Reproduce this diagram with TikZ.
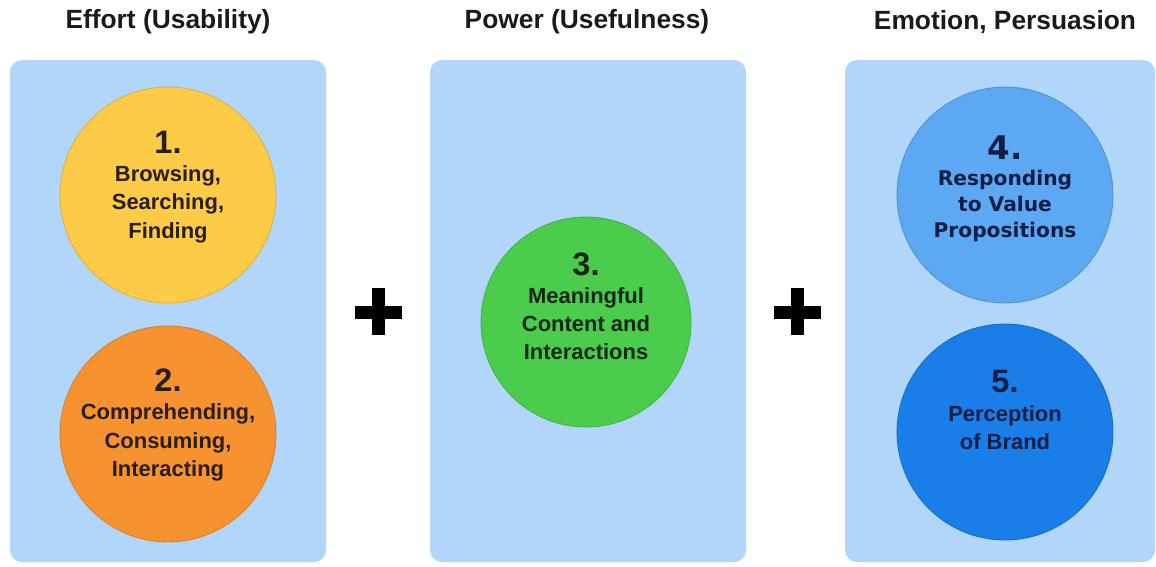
\documentclass[tikz,border=0pt]{standalone}
\usepackage{fontspec}
\setmainfont{Liberation Sans}
\newfontfamily\verdanafont{DejaVu Sans}

\definecolor{panelblue}{RGB}{178,214,250}
\definecolor{discyellow}{RGB}{252,203,72}
\definecolor{discorange}{RGB}{247,146,48}
\definecolor{discgreen}{RGB}{76,204,76}
\definecolor{discsky}{RGB}{92,168,242}
\definecolor{discblue}{RGB}{26,126,232}
\definecolor{titlegray}{RGB}{26,26,26}
\definecolor{inkbrown}{RGB}{40,30,18}
\definecolor{inkgreen}{RGB}{18,40,18}
\definecolor{inknavy}{RGB}{12,30,70}

\tikzset{
	panel/.style={fill=panelblue, rounded corners=0.24cm},
	disc/.style={circle, fill=#1, draw=#1!88!black, line width=0.5pt, minimum size=4.32cm, inner sep=0pt},
	heading/.style={font=\bfseries\fontsize{15}{18}\selectfont, text=titlegray},
	discnote/.style={align=center, font=\bfseries\fontsize{12.5}{16}\selectfont, text=#1},
}
\newcommand\stepno[1]{{\fontsize{18.5}{20}\selectfont #1}}

\begin{document}
\begin{tikzpicture}[x=0.02cm, y=-0.02cm]
		%%%%% START %%%%%
		\useasboundingbox (0, 0) rectangle (1156, 566);
		
		\node[heading] (h1) at (168, 22) {Effort (Usability)};
		\node[heading] (h2) at (587, 22) {Power (Usefulness)};
		\node[heading] (h3) at (1005, 22) {Emotion, Persuasion};
		
		\fill[panel] (10, 60) rectangle (326, 562);
		\fill[panel] (430, 60) rectangle (746, 562);
		\fill[panel] (845, 60) rectangle (1155, 562);
		
		\fill[black] (355, 305.5) rectangle (402, 318.5);
		\fill[black] (371.5, 288) rectangle (384.5, 335);
		\fill[black] (774, 305.5) rectangle (821, 318.5);
		\fill[black] (790.5, 288) rectangle (803.5, 335);
		
		\node[disc=discyellow] (c1) at (168, 195) {};
		\node[disc=discorange] (c2) at (168, 434) {};
		\node[disc=discgreen, minimum size=4.2cm] (c3) at (586, 322) {};
		\node[disc=discsky] (c4) at (1005, 195) {};
		\node[disc=discblue] (c5) at (1005, 432) {};
		
		\node[discnote=inkbrown] (t1) at (168, 187) {\stepno{1.}\\Browsing,\\Searching,\\Finding};
		\node[discnote=inkbrown] (t2) at (168, 425) {\stepno{2.}\\Comprehending,\\Consuming,\\Interacting};
		\node[discnote=inkgreen] (t3) at (586, 306) {\stepno{3.}\\Meaningful\\Content and\\Interactions};
		\node[discnote=inknavy, font=\verdanafont\bfseries\fontsize{11.5}{14.8}\selectfont] (t4) at (1005, 189) {\stepno{4.}\\Responding\\to Value\\Propositions};
		\node[discnote=inknavy] (t5) at (1005, 410) {\stepno{5.}\\Perception\\of Brand};
		
		%%%%% END %%%%%
\end{tikzpicture}
\end{document}
